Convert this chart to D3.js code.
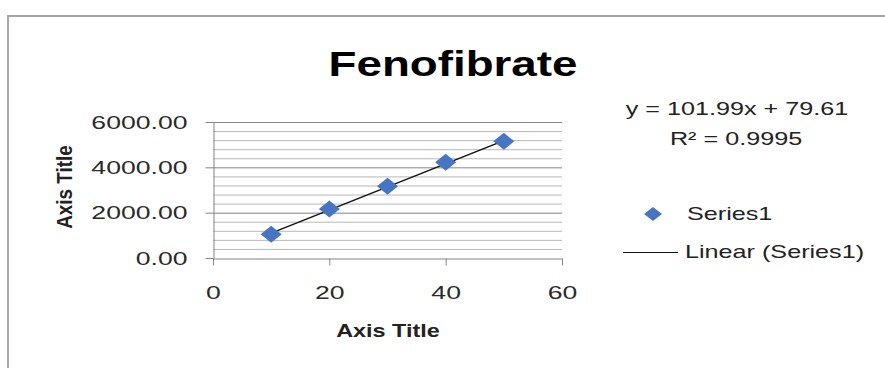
<!DOCTYPE html>
<html>
<head>
<meta charset="utf-8">
<script src="https://cdn.jsdelivr.net/npm/d3@7"></script>
<style>
  body { margin: 0; background: #fff; }
  text { font-family: "Liberation Sans", Arial, sans-serif; }
</style>
</head>
<body>
<div id="chart"></div>
<script>
// data
const concX = [10, 20, 30, 40, 50]
const concY = [1050, 2160, 3170, 4220, 5150]
const xTicks = [0, 20, 40, 60]
const yTicks = [0, 2000, 4000, 6000]
const yMinor = d3.range(0, 6001, 400)
const slope = 101.99
const intercept = 79.61
const eqText = "y = 101.99x + 79.61"
const r2Text = "R² = 0.9995"

const W = 885, H = 368
const SX = 1.4   // the picture is stretched sideways, so text is too

const svg = d3.select("#chart").append("svg")
    .attr("width", W)
    .attr("height", H)

// chart frame
svg.append("rect")
    .attr("x", 8).attr("y", 16)
    .attr("width", W + 10).attr("height", H + 10)
    .attr("fill", "none")
    .attr("stroke", "#a6a6a6")
    .attr("stroke-width", 2)

const x = d3.scaleLinear().domain([0, 60]).range([213, 562])
const y = d3.scaleLinear().domain([0, 6000]).range([258, 122])

// minor gridlines
svg.append("g").selectAll("line")
    .data(yMinor.filter(v => !yTicks.includes(v)))
    .join("line")
      .attr("x1", x(0)).attr("x2", x(60))
      .attr("y1", d => y(d) + 0.5).attr("y2", d => y(d) + 0.5)
      .attr("stroke", "#b8b8b8")
      .attr("stroke-width", 1)

// major gridlines
svg.append("g").selectAll("line")
    .data(yTicks.filter(v => v > 0))
    .join("line")
      .attr("x1", x(0)).attr("x2", x(60))
      .attr("y1", d => y(d) + 0.5).attr("y2", d => y(d) + 0.5)
      .attr("stroke", "#858585")
      .attr("stroke-width", 1)

// y axis
const yAxis = svg.append("g")
    .attr("transform", `translate(${x(0) + 0.5},0)`)
    .call(d3.axisLeft(y).tickValues(yTicks).tickFormat(d3.format(".2f"))
        .tickSize(8).tickPadding(18).tickSizeOuter(0))
yAxis.select(".domain").attr("stroke", "#858585")
yAxis.selectAll(".tick line").attr("stroke", "#858585")
yAxis.selectAll(".tick text")
    .attr("font-family", "Liberation Sans, Arial, sans-serif")
    .attr("font-size", 19)
    .attr("fill", "#2a2a2a")
    .attr("x", -26 / SX)
    .attr("transform", `scale(${SX},1)`)

// x axis
const xAxis = svg.append("g")
    .attr("transform", `translate(0,${y(0) + 0.5})`)
    .call(d3.axisBottom(x).tickValues(xTicks)
        .tickSize(7).tickPadding(20).tickSizeOuter(0))
xAxis.select(".domain").attr("stroke", "#858585")
xAxis.selectAll(".tick line").attr("stroke", "#858585")
xAxis.selectAll(".tick text")
    .attr("font-family", "Liberation Sans, Arial, sans-serif")
    .attr("font-size", 19)
    .attr("fill", "#2a2a2a")
    .attr("transform", `scale(${SX},1)`)

// trendline from the fitted equation
const trendX = d3.extent(concX)
svg.append("line")
    .attr("x1", x(trendX[0])).attr("y1", y(slope * trendX[0] + intercept))
    .attr("x2", x(trendX[1])).attr("y2", y(slope * trendX[1] + intercept))
    .attr("stroke", "#111")
    .attr("stroke-width", 1.5)

// diamond markers
const diamond = (cx, cy, rx, ry) => `M${cx},${cy - ry}L${cx + rx},${cy}L${cx},${cy + ry}L${cx - rx},${cy}Z`
const blue = "#4775c4"

svg.append("g").selectAll("path")
    .data(concX.map((d, i) => ({ x: d, y: concY[i] })))
    .join("path")
      .attr("d", d => diamond(x(d.x), y(d.y), 10.5, 8.5))
      .attr("fill", blue)

// title
svg.append("text")
    .attr("transform", `translate(453,76) scale(1.27,1)`)
    .attr("text-anchor", "middle")
    .attr("font-size", 36)
    .attr("font-weight", "bold")
    .attr("fill", "#000")
    .text("Fenofibrate")

// axis titles
svg.append("text")
    .attr("transform", `translate(388,337) scale(1.3,1)`)
    .attr("text-anchor", "middle")
    .attr("font-size", 18)
    .attr("font-weight", "bold")
    .attr("fill", "#222")
    .text("Axis Title")

svg.append("text")
    .attr("transform", `translate(72,187) rotate(-90) scale(1.05,1.25)`)
    .attr("text-anchor", "middle")
    .attr("font-size", 18)
    .attr("font-weight", "bold")
    .attr("fill", "#222")
    .text("Axis Title")

// equation label
const eq = svg.append("g").attr("fill", "#222").attr("font-size", 18)
eq.append("text")
    .attr("transform", `translate(737,115) scale(${SX},1)`)
    .attr("text-anchor", "middle")
    .text(eqText)
eq.append("text")
    .attr("transform", `translate(736,145) scale(${SX},1)`)
    .attr("text-anchor", "middle")
    .text(r2Text)

// legend
const legend = svg.append("g").attr("fill", "#222").attr("font-size", 18)
legend.append("path")
    .attr("d", diamond(653, 214, 9, 7))
    .attr("fill", blue)
legend.append("text")
    .attr("transform", `translate(687,220) scale(${SX},1)`)
    .text("Series1")
legend.append("line")
    .attr("x1", 623).attr("x2", 678)
    .attr("y1", 252.5).attr("y2", 252.5)
    .attr("stroke", "#111")
    .attr("stroke-width", 1.2)
legend.append("text")
    .attr("transform", `translate(685,258) scale(${SX},1)`)
    .text("Linear (Series1)")
</script>
</body>
</html>
